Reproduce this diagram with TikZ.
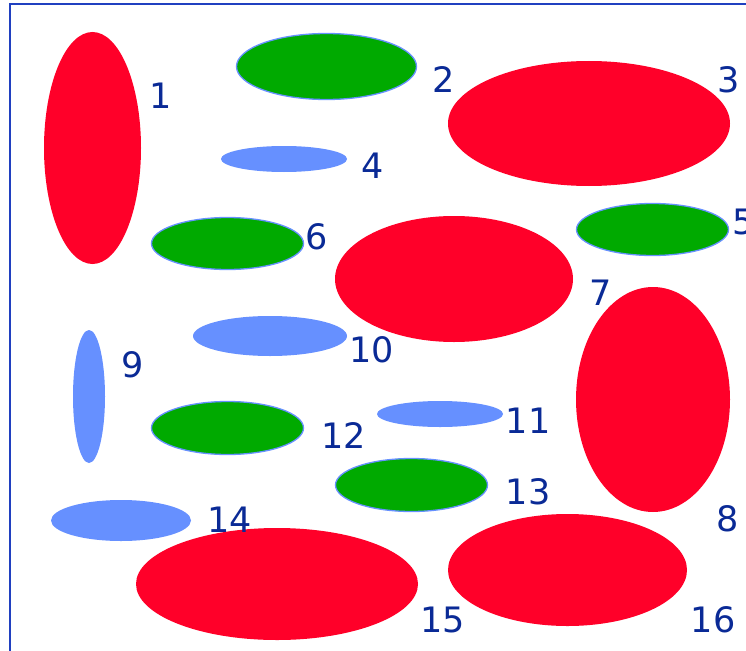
\documentclass[tikz,border=0pt]{standalone}
\usepackage{fontspec}
\setmainfont{DejaVu Sans}
\usetikzlibrary{shapes.geometric}
\definecolor{redf}{HTML}{FF0029}
\definecolor{greenf}{HTML}{00AA00}
\definecolor{bluef}{HTML}{6690FF}
\definecolor{txt}{HTML}{0A2A96}
\definecolor{frame}{HTML}{2040C0}
\tikzset{
  ell/.style={ellipse, inner sep=0pt, outer sep=0pt},
  redell/.style={ell, fill=redf},
  greenell/.style={ell, fill=greenf, draw=bluef, line width=1.3pt},
  blueell/.style={ell, fill=bluef},
  lbl/.style={text=txt, font=\fontsize{35}{35}\selectfont, inner sep=0pt}
}
\newcommand{\E}[6]{\node[#1, minimum width=#5pt, minimum height=#6pt] (#2) at (#3,#4) {};}
\begin{document}
\begin{tikzpicture}[x=1pt,y=-1pt]
\useasboundingbox (0,0) rectangle (746,650);
\clip (0,0) rectangle (746,650);
\fill[white] (0,0) rectangle (746,650);
\draw[frame, line width=1.8pt] (10,4) rectangle (780,690);
\E{redell}{e1}{92.5}{148}{97}{232}
\E{greenell}{e2}{326.5}{66.5}{180}{66}
\E{redell}{e3}{589}{123.5}{282}{125}
\E{blueell}{e4}{284}{159}{126}{26}
\E{greenell}{e5}{652.5}{229.5}{152}{52}
\E{greenell}{e6}{227.5}{243.5}{152}{52}
\E{redell}{e7}{454}{279}{238}{126}
\E{redell}{e8}{653}{399.5}{154}{225}
\E{blueell}{e9}{89}{396.5}{32}{133}
\E{blueell}{e10}{270}{336}{154}{40}
\E{blueell}{e11}{440}{414}{126}{26}
\E{greenell}{e12}{227.5}{428}{152}{53}
\E{greenell}{e13}{411.5}{485}{152}{53}
\E{blueell}{e14}{121}{520.5}{140}{41}
\E{redell}{e15}{277}{584}{282}{112}
\E{redell}{e16}{567.5}{570}{239}{112}
\node[lbl] (l1) at (161,96) {1};
\node[lbl] (l2) at (444,80) {2};
\node[lbl] (l3) at (729,80) {3};
\node[lbl] (l4) at (373,166) {4};
\node[lbl] (l5) at (744,222) {5};
\node[lbl] (l6) at (317,237) {6};
\node[lbl] (l7) at (601,293) {7};
\node[lbl] (l8) at (728,519) {8};
\node[lbl] (l9) at (133,365) {9};
\node[lbl] (l10) at (372,350) {10};
\node[lbl] (l11) at (528,421) {11};
\node[lbl] (l12) at (344,436) {12};
\node[lbl] (l13) at (528,492) {13};
\node[lbl] (l14) at (230,520) {14};
\node[lbl] (l15) at (443,620) {15};
\node[lbl] (l16) at (713,620) {16};
\end{tikzpicture}
\end{document}
